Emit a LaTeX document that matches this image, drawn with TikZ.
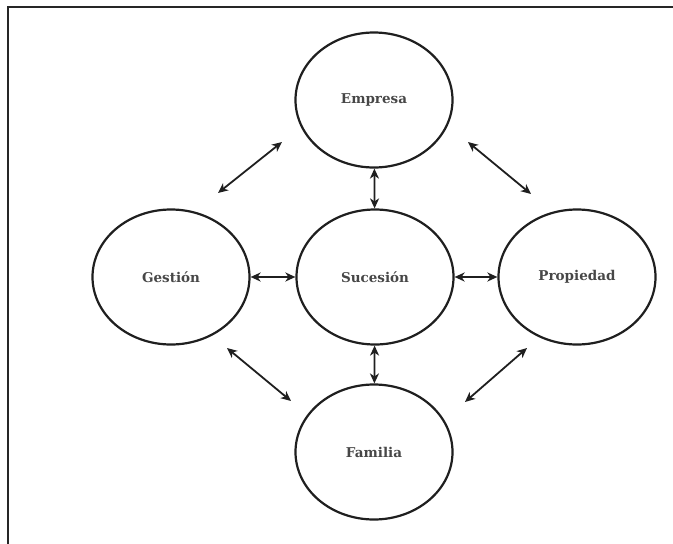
\documentclass[tikz,border=0pt]{standalone}
\usepackage{fontspec}
\setmainfont{DejaVu Serif}
\usetikzlibrary{shapes.geometric,arrows.meta}
\begin{document}
\begin{tikzpicture}[x=1pt,y=-1pt,
  blob/.style={ellipse,draw=black!88,line width=2.2pt,minimum width=157pt,minimum height=135pt,inner sep=0pt,
    font=\fontsize{13.5}{15}\selectfont\bfseries,text=black!72},
  link/.style={line width=1.8pt,draw=black!88,{Stealth[length=10pt,width=9pt,inset=3pt]}-{Stealth[length=10pt,width=9pt,inset=3pt]}}]
  \useasboundingbox (0,0) rectangle (673,544);
  % frame along the top and left edges
  \draw[line width=1.8pt,black!85] (673,7) -- (8,7) -- (8,544);
  % the five areas
  \node[blob] (empresa)   at (374,100) {Empresa};
  \node[blob] (gestion)   at (171,277) {Gestión};
  \node[blob] (sucesion)  at (375,277) {Sucesión};
  \node[blob] (propiedad) at (577,277) {Propiedad};
  \node[blob] (familia)   at (374,452) {Familia};
  % links between the centre and its neighbours
  \draw[link] (empresa) -- (sucesion);
  \draw[link] (sucesion) -- (familia);
  \draw[link] (gestion) -- (sucesion);
  \draw[link] (sucesion) -- (propiedad);
  % free-standing diagonal links
  \coordinate (gE1) at (218,193); \coordinate (gE2) at (282,142);
  \coordinate (eP1) at (468,142); \coordinate (eP2) at (531,194);
  \coordinate (gF1) at (227,348); \coordinate (gF2) at (291,401);
  \coordinate (fP1) at (465,402); \coordinate (fP2) at (527,348);
  \draw[link] (gE1) -- (gE2);
  \draw[link] (eP1) -- (eP2);
  \draw[link] (gF1) -- (gF2);
  \draw[link] (fP1) -- (fP2);
\end{tikzpicture}
\end{document}
